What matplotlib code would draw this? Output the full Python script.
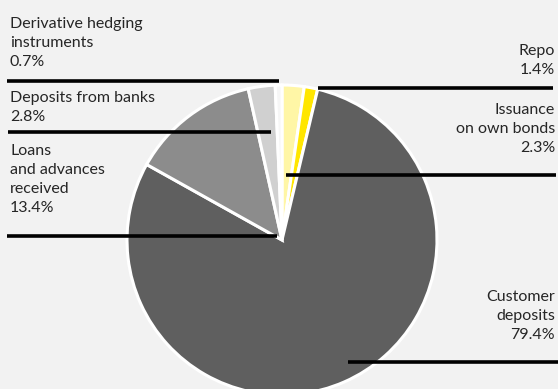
import matplotlib
matplotlib.use("Agg")
import matplotlib.pyplot as plt

# Funding structure shares (%)
labels = ["Issuance\non own bonds", "Repo", "Customer\ndeposits",
          "Loans\nand advances\nreceived", "Deposits from banks",
          "Derivative hedging\ninstruments"]
shares = [2.3, 1.4, 79.4, 13.4, 2.8, 0.7]
colors = ["#fff6a6", "#ffe600", "#5f5f5f", "#8c8c8c", "#d0d0d0", "#f6f6f6"]

W, H = 558, 389
BG = "#f2f2f2"

fig = plt.figure(figsize=(W / 100, H / 100), dpi=100, facecolor=BG)
ax = fig.add_axes([0, 0, 1, 1])
ax.set_facecolor(BG)


def yy(y):
    # pixel row (from top) -> data y
    return H - y


ax.pie(shares, colors=colors, startangle=90, counterclock=False,
       center=(282, yy(240)), radius=155,
       wedgeprops=dict(edgecolor="white", linewidth=2.2))

ax.set_xlim(0, W)
ax.set_ylim(0, H)
ax.set_aspect("equal")
ax.axis("off")

font = dict(family="Lato", fontsize=11.5, color="#262626", linespacing=1.46)

# label text: (label index, x, top y, alignment)
placements = [
    (5, 10, 17, "left"),
    (4, 10, 91, "left"),
    (3, 10, 144, "left"),
    (1, 555, 44, "right"),
    (0, 555, 103, "right"),
    (2, 555, 290, "right"),
]
for i, x, y, ha in placements:
    ax.text(x, yy(y), f"{labels[i]}\n{shares[i]}%", ha=ha, va="top",
            multialignment=ha, **font)

# leader lines: (x0, x1, y)
leaders = [(7, 279, 81), (8, 271, 132), (7, 277, 236),
           (318, 553, 88), (286, 556, 175), (348, 558, 362)]
for x0, x1, y in leaders:
    ax.plot([x0, x1], [yy(y), yy(y)], color="black", lw=2.6,
            solid_capstyle="butt")

fig.savefig("out.png", dpi=100, facecolor=BG)
